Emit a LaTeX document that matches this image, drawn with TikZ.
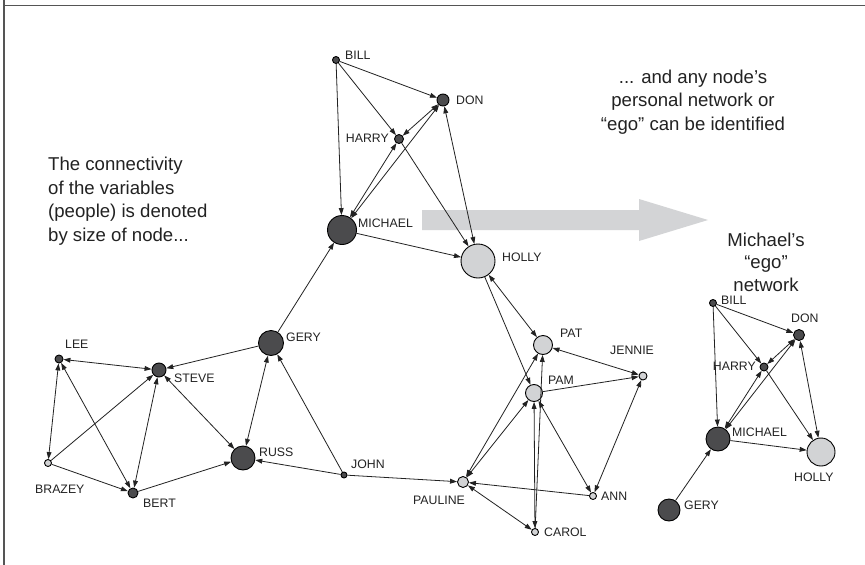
\documentclass[tikz,border=0pt]{standalone}
\usepackage{fontspec}
\setmainfont{Liberation Sans}
\usetikzlibrary{arrows.meta}
\definecolor{nodedark}{HTML}{4B4B4D}
\definecolor{nodelight}{HTML}{D2D3D5}
\definecolor{bandgray}{HTML}{D3D4D6}
\definecolor{framegray}{HTML}{555555}
\definecolor{inkc}{HTML}{222222}
\begin{document}
\begin{tikzpicture}[x=1pt,y=-1pt,
  dk/.style={circle,draw=black,line width=0.9pt,fill=nodedark,inner sep=0pt,minimum size=#1},
  lt/.style={circle,draw=black,line width=0.9pt,fill=nodelight,inner sep=0pt,minimum size=#1},
  lbl/.style={font=\fontsize{12.3}{14}\selectfont,text=inkc,inner sep=0pt},
  big/.style={font=\fontsize{18.6}{23.5}\selectfont,text=inkc,inner sep=0pt},
  one/.style={draw=inkc,line width=0.8pt,-{Triangle[length=7pt,width=4.8pt]}},
  two/.style={draw=inkc,line width=0.8pt,{Triangle[length=7pt,width=4.8pt]}-{Triangle[length=7pt,width=4.8pt]}}]
\useasboundingbox (0,0) rectangle (865,565);
\fill[white] (0,0) rectangle (865,565);
% frame edges
\draw[framegray,line width=1.4pt] (4,0) -- (4,565);
\draw[framegray,line width=1.4pt] (4,5.5) -- (865,5.5);

% wide grey arrow pointing to the ego network
\fill[bandgray] (422,210) -- (639,210) -- (639,199) -- (708,220) -- (639,241) -- (639,230) -- (422,230) -- cycle;

% captions
\node[big,align=left,anchor=west] (capL) at (48,201) {The connectivity\\of the variables\\(people) is denoted\\by size of node...};
\node[big,align=center] (capR) at (693,102) {... and any node’s\\personal network or\\“ego” can be identified};
\node[big,align=center,font=\fontsize{18.6}{22.5}\selectfont] (capE) at (766,262) {Michael’s\\“ego”\\network};

% ---------- full network ----------
\node[dk=7] (bill) at (336,60) {};
\node[dk=12] (don) at (443,100) {};
\node[dk=9] (harry) at (399,139) {};
\node[dk=29] (michael) at (342,230) {};
\node[lt=34] (holly) at (478,261) {};
\node[dk=25] (gery) at (271,343) {};
\node[dk=8] (lee) at (59,359) {};
\node[dk=14] (steve) at (159,370) {};
\node[lt=7] (brazey) at (48,463) {};
\node[dk=10] (bert) at (133,493) {};
\node[dk=24] (russ) at (243,458) {};
\node[dk=6] (john) at (344,475) {};
\node[lt=19] (pat) at (543,345) {};
\node[lt=17] (pam) at (534,393) {};
\node[lt=8] (jennie) at (643,376) {};
\node[lt=11] (pauline) at (463,482) {};
\node[lt=7] (ann) at (593,496) {};
\node[lt=7] (carol) at (535,532) {};

\node[lbl,anchor=west] (billT) at (345,55) {BILL};
\node[lbl,anchor=west] (donT) at (456,100) {DON};
\node[lbl,anchor=east] (harryT) at (389,138) {HARRY};
\node[lbl,anchor=west] (michaelT) at (358,223) {MICHAEL};
\node[lbl,anchor=west] (hollyT) at (502,257) {HOLLY};
\node[lbl,anchor=west] (geryT) at (286,337) {GERY};
\node[lbl,anchor=west] (leeT) at (65,344) {LEE};
\node[lbl,anchor=west] (steveT) at (174,378) {STEVE};
\node[lbl,anchor=west] (brazeyT) at (35,489) {BRAZEY};
\node[lbl,anchor=west] (bertT) at (143,503) {BERT};
\node[lbl,anchor=west] (russT) at (259,452) {RUSS};
\node[lbl,anchor=west] (johnT) at (351,464) {JOHN};
\node[lbl,anchor=west] (patT) at (560,333) {PAT};
\node[lbl,anchor=west] (pamT) at (548,380) {PAM};
\node[lbl,anchor=west] (jennieT) at (610,350) {JENNIE};
\node[lbl,anchor=west] (paulineT) at (413,500) {PAULINE};
\node[lbl,anchor=west] (annT) at (601,496) {ANN};
\node[lbl,anchor=west] (carolT) at (544,532) {CAROL};

\draw[one] (bill) -- (don);
\draw[one] (bill) -- (harry);
\draw[one] (bill) -- (michael);
\draw[two] (harry) -- (don);
\draw[two] (harry) -- (michael);
\draw[two] (michael) -- (don);
\draw[one] (harry) -- (holly);
\draw[two] (don) -- (holly);
\draw[one] (michael) -- (holly);
\draw[one] (gery) -- (michael);
\draw[one] (gery) -- (steve);
\draw[two] (gery) -- (russ);
\draw[one] (john) -- (gery);
\draw[one] (john) -- (russ);
\draw[one] (john) -- (pauline);
\draw[two] (lee) -- (steve);
\draw[two] (lee) -- (brazey);
\draw[two] (lee) -- (bert);
\draw[one] (brazey) -- (steve);
\draw[one] (brazey) -- (bert);
\draw[two] (steve) -- (bert);
\draw[two] (steve) -- (russ);
\draw[one] (bert) -- (russ);
\draw[two] (holly) -- (pat);
\draw[one] (holly) -- (pam);
\draw[two] (pat) -- (jennie);
\draw[one] (pam) -- (jennie);
\draw[two] (pat) -- (pauline);
\draw[two] (pam) -- (pauline);
\draw[two] (carol) -- (pam);
\draw[one] (carol) -- (pat);
\draw[two] (pam) -- (ann);
\draw[two] (jennie) -- (ann);
\draw[one] (ann) -- (pauline);
\draw[two] (pauline) -- (carol);

% ---------- Michael's ego network ----------
\node[dk=7] (ebill) at (713,303) {};
\node[dk=11] (edon) at (799,335) {};
\node[dk=8] (eharry) at (764,367) {};
\node[dk=24] (emichael) at (718,439) {};
\node[lt=28] (eholly) at (821,452) {};
\node[dk=22] (egery) at (669,510) {};

\node[lbl,anchor=west] (ebillT) at (721,300) {BILL};
\node[lbl,anchor=west] (edonT) at (791,318) {DON};
\node[lbl,anchor=east] (eharryT) at (756,366) {HARRY};
\node[lbl,anchor=west] (emichaelT) at (732,432) {MICHAEL};
\node[lbl,anchor=west] (ehollyT) at (794,477) {HOLLY};
\node[lbl,anchor=west] (egeryT) at (684,505) {GERY};

\draw[one] (ebill) -- (edon);
\draw[one] (ebill) -- (eharry);
\draw[one] (ebill) -- (emichael);
\draw[two] (eharry) -- (edon);
\draw[two] (eharry) -- (emichael);
\draw[two] (emichael) -- (edon);
\draw[one] (eharry) -- (eholly);
\draw[two] (edon) -- (eholly);
\draw[one] (emichael) -- (eholly);
\draw[one] (egery) -- (emichael);
\end{tikzpicture}
\end{document}
